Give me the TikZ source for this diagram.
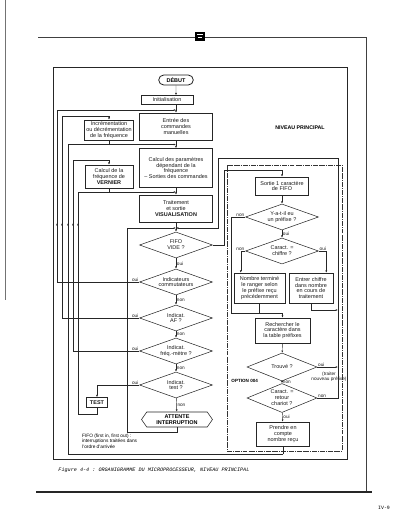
\documentclass[tikz,border=0pt]{standalone}
\usepackage{fontspec}
\setmainfont{Liberation Sans}
\setmonofont{Liberation Mono}
\usepackage{tikz}
\usetikzlibrary{positioning,arrows.meta,calc,shapes.geometric,shapes.misc,shapes.symbols}
\newcommand{\boxfont}{\fontsize{7.8}{8.4}\selectfont}
\newcommand{\ynfont}{\fontsize{6.7}{7.2}\selectfont}
\newcommand{\capfont}{\ttfamily\itshape\fontsize{7.3}{8}\selectfont}
\tikzset{
  flow/.style={line width=0.65pt,draw=black!85},
  arr/.style={flow,-{Latex[length=3.2pt,width=2.6pt]}},
  procbox/.style={draw=black!85,line width=0.75pt,align=center,font=\boxfont,inner sep=1pt,text=black!90},
  decis/.style={diamond,aspect=2.8,draw=black!85,line width=0.75pt,align=center,font=\boxfont,inner sep=-1pt,
    minimum width=3.65cm,minimum height=1.3cm,text=black!90},
  termnode/.style={rounded rectangle,draw=black!90,line width=1.1pt,font=\boxfont\bfseries,
    minimum width=1.8cm,minimum height=0.5cm,inner sep=1pt},
  waitnode/.style={signal,signal to=east and west,signal pointer angle=110,draw=black!85,line width=0.8pt,
    align=center,font=\boxfont\bfseries,minimum width=3.55cm,minimum height=0.75cm,inner sep=0.5pt},
  yn/.style={font=\ynfont,inner sep=1pt,text=black!90},
  optframe/.style={line width=0.6pt,draw=black!80,dash pattern=on 7pt off 1.5pt on 1pt off 1.5pt},
  pageline/.style={line width=0.7pt,draw=black!75},
}

\begin{document}
\begin{tikzpicture}[x=0.05cm,y=-0.05cm]
  \useasboundingbox (0,0) rectangle (400,518);
  % page of the scan
  \draw[black!55,line width=1.2pt] (5,0) -- (5,300);
  \draw[pageline] (38,37) -- (366,37) -- (366,492);
  \draw[black!85,line width=1.5pt] (36,492) -- (372,492);
  \fill[black] (195,32) rectangle (205,41);
  \fill[white] (197,34.5) rectangle (203,35.3);
  \fill[white] (198,37.5) rectangle (202,38.3);
  \node[font=\ttfamily\fontsize{7}{8}\selectfont] (pagenum) at (384,508) {IV-9};
  \node[font=\capfont,anchor=west] (caption) at (56,470)
    {Figure 4-4 : ORGANIGRAMME DU MICROPROCESSEUR, NIVEAU PRINCIPAL};

  % frame of the flowchart
  \draw[flow] (53,67) rectangle (347,459);
  \draw[optframe] (227,165) rectangle (342,451);
  \node[font=\bfseries\fontsize{7.5}{8}\selectfont] (niveau) at (300,128) {NIVEAU PRINCIPAL};
  \node[font=\bfseries\fontsize{6.5}{7}\selectfont,anchor=west] (option) at (229,381) {OPTION 004};

  % main column
  \node[termnode] (debut) at (176,80) {DÉBUT};
  \node[procbox,minimum width=2.6cm,minimum height=0.45cm] (init) at (167,100) {Initialisation};
  \node[procbox,minimum width=3.65cm,minimum height=1.35cm] (entree) at (176,126.5) {Entrée des\\commandes\\manuelles};
  \node[procbox,minimum width=3.65cm,minimum height=1.95cm] (calcul) at (176,168) {Calcul des paramètres\\dépendant de la\\fréquence\\-- Sorties des commandes};
  \node[procbox,minimum width=3.65cm,minimum height=1.35cm] (visu) at (176,208.5) {Traitement\\et sortie\\\textbf{VISUALISATION}};
  \node[decis] (fifo) at (176,245) {FIFO\\VIDE ?};
  \node[decis] (commut) at (176,282) {Indicateurs\\commutateurs};
  \node[decis] (af) at (176,318) {Indicat.\\AF ?};
  \node[decis] (freq) at (176,351) {Indicat.\\fréq.-mètre ?};
  \node[decis] (test) at (176,385) {Indicat.\\test ?};
  \node[waitnode] (attente) at (177,419.5) {ATTENTE\\INTERRUPTION};

  % left column
  \node[procbox,minimum width=2.45cm,minimum height=1cm] (incr) at (109,130) {Incrémentation\\ou décrémentation\\de la fréquence};
  \node[procbox,minimum width=2.4cm,minimum height=1.15cm] (vern) at (109,176.5) {Calcul de la\\fréquence de\\\textbf{VERNIER}};
  \node[procbox,minimum width=1.05cm,minimum height=0.5cm,font=\boxfont\bfseries] (testbox) at (97,402.5) {TEST};
  \node[font=\fontsize{6.8}{7.6}\selectfont,anchor=north west,align=left,inner sep=0pt] (note) at (82,434)
    {FIFO (first in, first out) :\\interruptions traitées dans\\l'ordre d'arrivée};

  % right column (character from FIFO)
  \node[procbox,minimum width=2.65cm,minimum height=0.9cm] (sortie) at (282,186) {Sortie 1 caractère\\de FIFO};
  \node[decis] (pref) at (282,217) {Y-a-t-il eu\\un préfixe ?};
  \node[decis] (chif) at (282,251) {Caract. =\\chiffre ?};
  \node[procbox,minimum width=2.55cm,minimum height=1.5cm] (nombre) at (259.5,288) {Nombre terminé\\le ranger selon\\le préfixe reçu\\précédemment};
  \node[procbox,minimum width=2.2cm,minimum height=1.5cm] (entrer) at (311,288) {Entrer chiffre\\dans nombre\\en cours de\\traitement};
  \node[procbox,minimum width=2.75cm,minimum height=1.25cm] (rech) at (282.5,330.5) {Rechercher le\\caractère dans\\la table préfixes};
  \node[decis,minimum width=3.5cm,minimum height=1.4cm] (trouve) at (282,367) {Trouvé ?};
  \node[decis,minimum width=3.5cm,minimum height=1.45cm] (retour) at (282,398) {Caract. =\\retour\\chariot ?};
  \node[procbox,minimum width=2.65cm,minimum height=1.2cm] (prendre) at (283,434) {Prendre en\\compte\\nombre reçu};
  \node[yn,align=center] (traiter) at (329,377) {(traiter\\nouveau préfixe)};

  % junctions
  \coordinate (jEnt) at (176,110);
  \coordinate (jCalc) at (176,144.5);
  \coordinate (jVis) at (176,192);
  \coordinate (jFifo) at (176,228);
  \coordinate (jRech) at (282.5,313);
  \coordinate (jPr) at (283,454);

  % main flow
  \draw[arr] (debut) -- (debut |- init.north);
  \draw[flow] (debut |- init.south) -- (jEnt);
  \draw[arr] (jEnt) -- (entree);
  \draw[flow] (entree) -- (jCalc);
  \draw[arr] (jCalc) -- (calcul);
  \draw[flow] (calcul) -- (jVis);
  \draw[arr] (jVis) -- (visu);
  \draw[flow] (visu) -- (jFifo);
  \draw[arr] (jFifo) -- (fifo);
  \draw[arr] (fifo) -- node[yn,right] (lFifo) {oui} (commut);
  \draw[arr] (commut) -- node[yn,right] (lCom) {non} (af);
  \draw[arr] (af) -- node[yn,right] (lAf) {non} (freq);
  \draw[arr] (freq) -- node[yn,right] (lFreq) {non} (test);
  \draw[arr] (test) -- node[yn,right] (lTest) {non} (attente);

  % branches to the left
  \draw[arr] (commut.west) node[yn,above left] (oCom) {oui} -| (57,110) -- (jEnt);
  \draw[arr] (af.west) node[yn,above left] (oAf) {oui} -| (62,116) -| (incr.north);
  \draw[flow] (incr) -- (incr.south |- jCalc);
  \draw[arr] (freq.west) node[yn,above left] (oFreq) {oui} -| (73,160) -| (vern.north);
  \draw[flow] (vern) -- (vern.south |- jVis);
  \draw[arr] (test.west) node[yn,above left] (oTest) {oui} -| (testbox.north);
  \draw[arr] (testbox.south) -- ++(0,6) -| (78,192) -- (jVis);
  \draw[arr] (attente.south) -- ++(0,5) -| (127,228) -- (jFifo);
  \draw[arr] (jPr) -| (68,144.5) -- (jCalc);
  \foreach \x in {57,62,68,73,78}
    \draw[arr] (\x,229) -- (\x,223);

  % FIFO not empty
  \draw[arr] (fifo.east) -| (224,170) -| (sortie.north);
  \draw[arr] (sortie) -- (pref);
  \draw[arr] (pref) -- node[yn,right] (oPref) {oui} (chif);
  \draw[flow] (pref.west) node[yn,above left] (nPref) {non} -| (231,313) -- (jRech);
  \draw[arr] (chif.west) node[yn,above left] (nChif) {non} -| ([xshift=0.35cm]nombre.north west);
  \draw[arr] (chif.east) node[yn,above right] (oChif) {oui} -| ([xshift=-0.35cm]entrer.north east);
  \draw[flow] (nombre) -- (nombre.south |- jRech);
  \draw[arr] (jRech) -- (rech);
  \draw[arr] (rech) -- (trouve);
  \draw[arr] (trouve) -- node[yn,right] (nTrouve) {non} (retour);
  \draw[arr] (retour) -- node[yn,right] (oRetour) {oui} (prendre);
  \draw[flow] (prendre) -- (jPr);

  % return to FIFO VIDE
  \draw[arr] (trouve.east) node[yn,above right] (oTrouve) {oui} -- (338,367);
  \draw[arr] (entrer.south) |- (338,310);
  \draw[arr] (retour.east) node[yn,above right] (nRetour) {non} -- (338,398) |- (218,158) |- (jFifo);
\end{tikzpicture}
\end{document}
